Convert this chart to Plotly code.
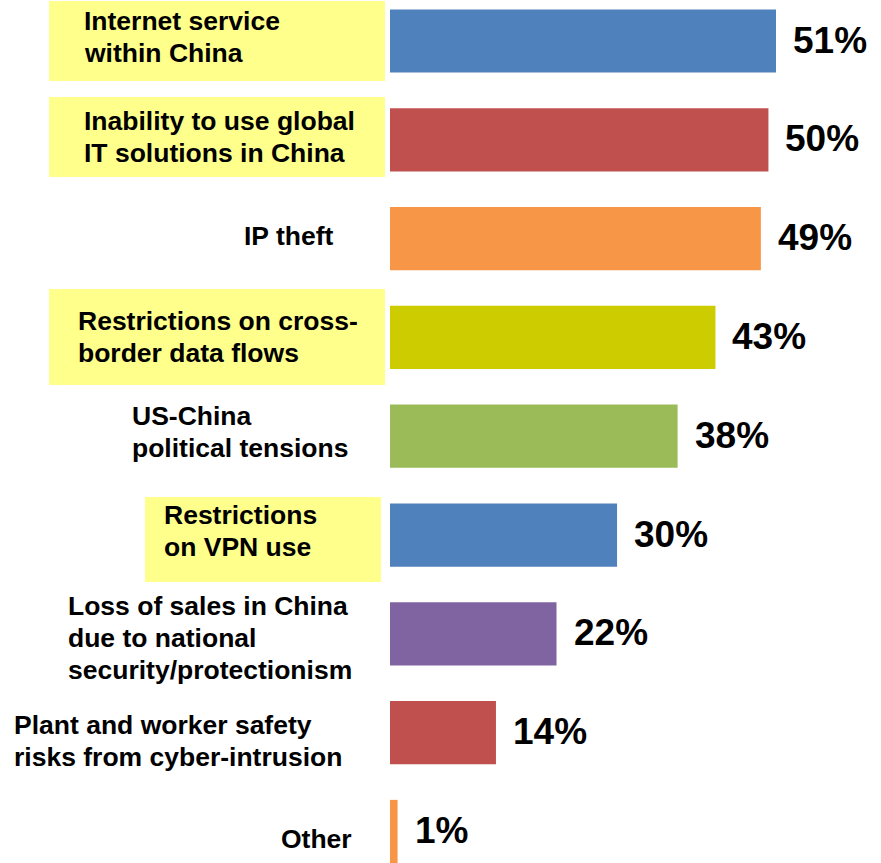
import plotly.graph_objects as go

# Survey: top concerns of companies operating in China (% of respondents)
categories = [
    "Internet service<br>within China",
    "Inability to use global<br>IT solutions in China",
    "IP theft",
    "Restrictions on cross-<br>border data flows",
    "US-China<br>political tensions",
    "Restrictions<br>on VPN use",
    "Loss of sales in China<br>due to national<br>security/protectionism",
    "Plant and worker safety<br>risks from cyber-intrusion",
    "Other",
]
values = [51, 50, 49, 43, 38, 30, 22, 14, 1]
bar_colors = ["#4F81BD", "#C0504D", "#F79646", "#CCCC00", "#9BBB59",
              "#4F81BD", "#8064A2", "#C0504D", "#F79646"]
highlighted = [True, True, False, True, False, True, False, False, False]

W, H = 881, 863
FONT = "Liberation Sans, Arial, sans-serif"

# Layout geometry (pixels)
zero_px = 390
px_per_unit = 386 / 51
first_center, step = 41, 98.81
line_gap = 32
label_left_px = [82, 82, 242, 76, 130, 162, 66, 12, 279]
label_shift_px = [4, 3, 3, 0, 4, 4, -4, -8, -8]
box_px = [(49, 385, 1, 81), (49, 385, 97, 177), None, (49, 385, 289, 385),
          None, (145, 381, 497, 582), None, None, None]

idx = list(range(len(values)))

fig = go.Figure(go.Bar(
    x=values, y=idx, orientation="h",
    marker=dict(color=bar_colors, line=dict(width=0)),
    width=0.64, hoverinfo="skip",
))

shapes = []
for hl, b in zip(highlighted, box_px):
    if hl and b:
        x0, x1, y0, y1 = b
        shapes.append(dict(type="rect", xref="paper", yref="paper", layer="below",
                           x0=x0 / W, x1=x1 / W, y0=1 - y1 / H, y1=1 - y0 / H,
                           fillcolor="#FFFF8C", line=dict(width=0)))

annotations = []
for i, (cat, v) in enumerate(zip(categories, values)):
    lines = cat.split("<br>")
    n = len(lines)
    for k, line in enumerate(lines):
        annotations.append(dict(
            x=label_left_px[i] / W, xref="paper", y=i, yref="y",
            text=line, showarrow=False, xanchor="left", yanchor="middle",
            yshift=label_shift_px[i] + ((n - 1) / 2 - k) * line_gap,
            font=dict(family=FONT, size=26.5, color="black", weight="bold"),
        ))
    annotations.append(dict(
        x=v, xref="x", y=i, yref="y", text=f"{v}%", showarrow=False,
        xanchor="left", yanchor="middle", xshift=15, yshift=1,
        font=dict(family=FONT, size=37, color="black", weight="bold"),
    ))

fig.update_layout(
    width=W, height=H, margin=dict(l=0, r=0, t=0, b=0),
    paper_bgcolor="white", plot_bgcolor="white", showlegend=False,
    shapes=shapes, annotations=annotations,
    xaxis=dict(range=[-zero_px / px_per_unit, (W - zero_px) / px_per_unit],
               visible=False, fixedrange=True),
    yaxis=dict(range=[(H - first_center) / step, -first_center / step],
               visible=False, fixedrange=True),
)

fig.write_html("out.html")
